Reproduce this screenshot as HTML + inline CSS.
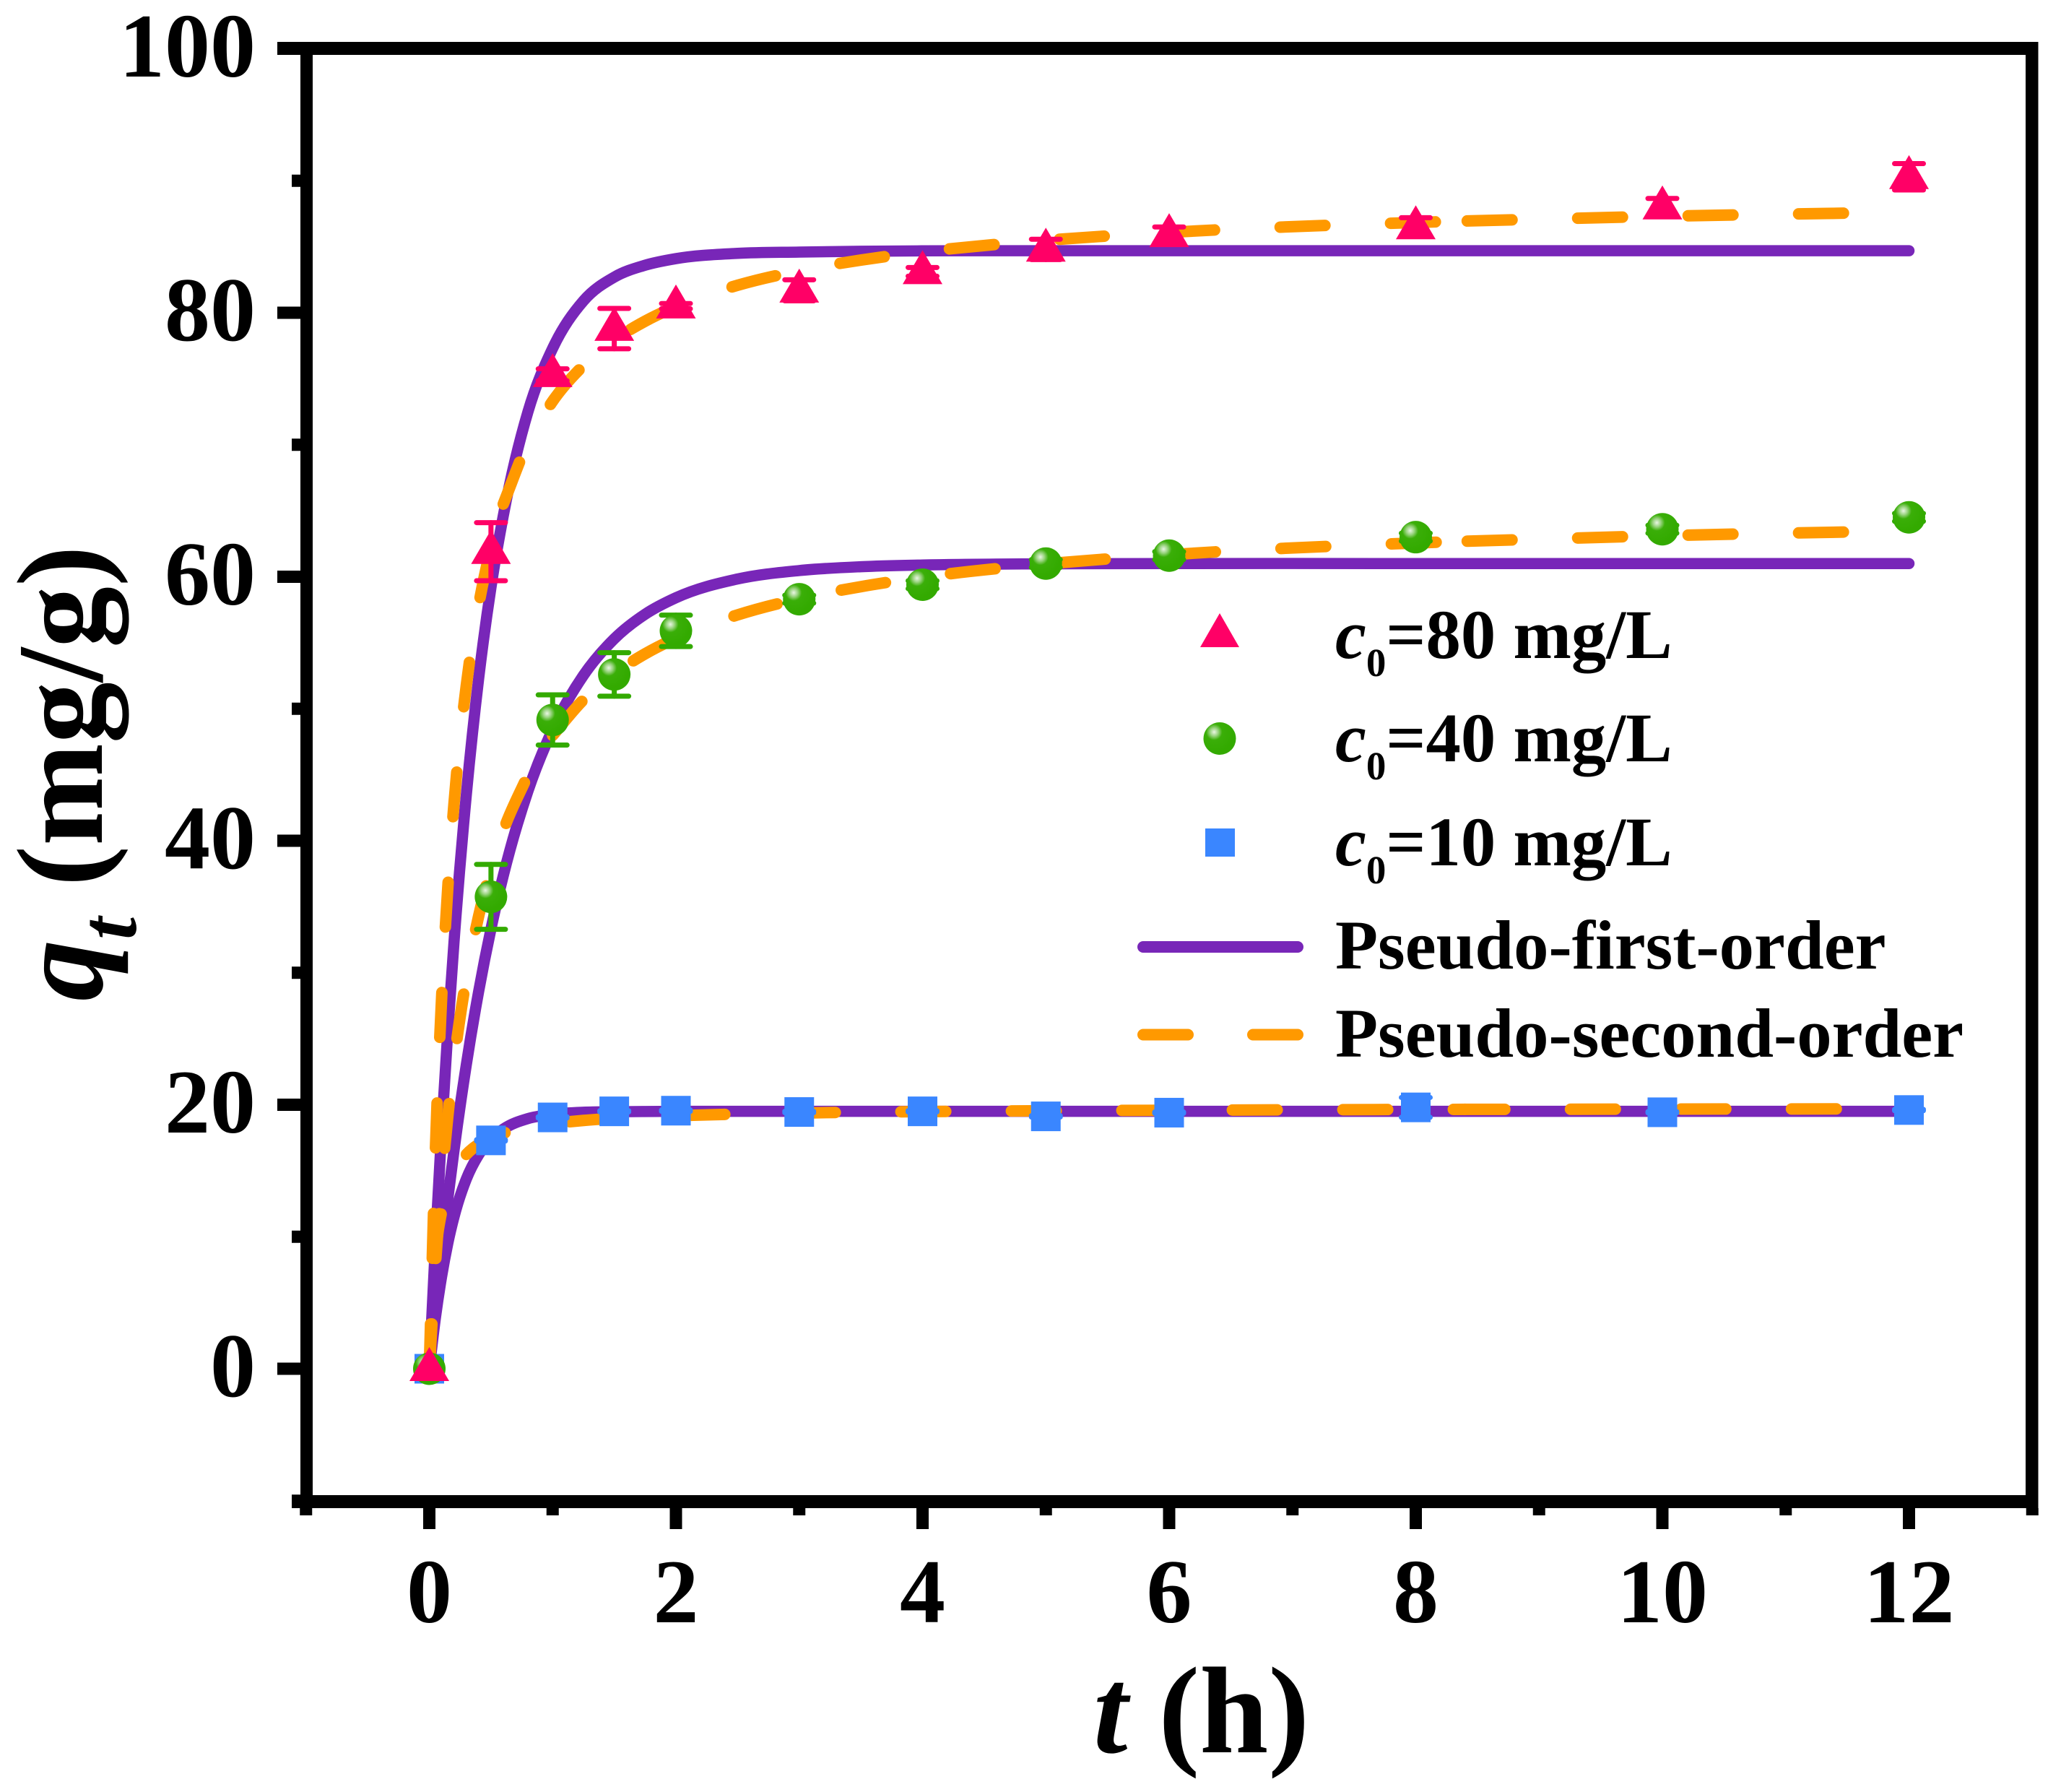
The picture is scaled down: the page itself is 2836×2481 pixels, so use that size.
<!DOCTYPE html>
<html lang="en">
<head>
<meta charset="utf-8">
<title>Adsorption kinetics chart</title>
<style>
html,body{margin:0;padding:0;background:#fff;}
svg{display:block;}
text{font-family:"Liberation Serif",serif;font-weight:bold;fill:#000;}
</style>
</head>
<body>
<svg id="chart" xmlns="http://www.w3.org/2000/svg" width="2836" height="2481" viewBox="0 0 2836 2481">
<defs>
<radialGradient id="sphere" cx="0.33" cy="0.3" r="0.62">
<stop offset="0" stop-color="#eaf6e4"/>
<stop offset="0.2" stop-color="#9ad480"/>
<stop offset="0.4" stop-color="#3aae08"/>
<stop offset="1" stop-color="#33aa00"/>
</radialGradient>
</defs>
<rect x="0" y="0" width="2836" height="2481" fill="#fff"/>
<g id="curves"></g>
<g id="marks"></g>
<g id="axes"></g>
<text transform="translate(141,1386) rotate(-90)" font-size="170"><tspan font-style="italic">q</tspan><tspan font-style="italic" font-size="112" dy="47">t</tspan><tspan dy="-47" xml:space="preserve"> (mg/g)</tspan></text>
<text x="1514" y="2426" font-size="171" xml:space="preserve"><tspan font-style="italic">t</tspan> (h)</text>
<g id="legend">
<polygon points="1689,849 1716,896 1662,896" fill="#ff0066"/>
<text x="1849" y="911" font-size="96.7"><tspan font-style="italic">c</tspan><tspan font-size="55" dy="25">0</tspan><tspan dy="-25">=80 mg/L</tspan></text>
<circle cx="1689" cy="1022.5" r="22.5" fill="url(#sphere)"/>
<text x="1849" y="1054" font-size="96.7"><tspan font-style="italic">c</tspan><tspan font-size="55" dy="25">0</tspan><tspan dy="-25">=40 mg/L</tspan></text>
<rect x="1669" y="1147" width="41" height="39" fill="#3a86ff"/>
<text x="1849" y="1198" font-size="96.7"><tspan font-style="italic">c</tspan><tspan font-size="55" dy="25">0</tspan><tspan dy="-25">=10 mg/L</tspan></text>
<line x1="1583" y1="1311" x2="1797" y2="1311" stroke="#7826b8" stroke-width="16" stroke-linecap="round"/>
<text x="1849" y="1341" font-size="96.7">Pseudo-first-order</text>
<line x1="1583" y1="1432.5" x2="1645" y2="1432.5" stroke="#ff9900" stroke-width="16" stroke-linecap="round"/>
<line x1="1735" y1="1432.5" x2="1797" y2="1432.5" stroke="#ff9900" stroke-width="16" stroke-linecap="round"/>
<text x="1849" y="1463" font-size="96.7">Pseudo-second-order</text>
</g>
</svg>
<script>
const times = [0,0.5,1,1.5,2,3,4,5,6,8,10,12];
const obs80 = [0,61.9,75.3,78.8,80.5,81.7,83.1,84.8,85.9,86.5,88,90.3];
const obs40 = [0,35.75,49.15,52.6,55.9,58.3,59.4,61,61.6,63,63.6,64.5];
const obs10 = [0,17.3,19.04,19.5,19.55,19.45,19.5,19.12,19.4,19.8,19.43,19.6];
const err80 = [0,2.2,0.45,1.53,0.2,0.8,0.33,0.77,0.6,0.7,0.66,1];
const err40 = [0,2.46,1.9,1.65,1.19,0.3,0.3,0.3,0.3,0.3,0.3,0.3];
const err10 = [0,0.05,0.05,0.05,0.05,0.05,0.05,0.05,0.05,0.75,0.05,0.05];

const curveT = [0,0.05,0.1,0.15,0.2,0.3,0.4,0.5,0.6,0.8,1,1.25,1.5,1.75,2,2.5,3,3.5,4,5,6,8,8.4,10,12];
const first80 = [0,9.58,18.07,25.6,32.29,43.47,52.27,59.19,64.63,72.5,77.3,80.9,82.7,83.6,84.1,84.5,84.6,84.66,84.69,84.7,84.7,84.7,84.7,84.7,84.7];
const first40 = [0,4.64,8.91,12.87,16.52,23.03,28.58,33.32,37.36,43.77,48.43,52.53,55.3,57.16,58.41,59.83,60.47,60.76,60.89,60.98,61,61,61,61,61];
const first10 = [0,3.89,7,9.5,11.49,14.37,16.21,17.39,18.15,18.95,19.27,19.43,19.47,19.49,19.5,19.5,19.5,19.5,19.5,19.5,19.5,19.5,19.5,19.5,19.5];
const second80 = [0,16.7,28.14,36.46,42.78,51.76,57.83,62.2,65.51,70.17,73.3,76,77.93,79.36,80.47,82.08,83.18,83.99,84.61,85.49,86.09,86.84,86.95,87.31,87.62];
const second40 = [0,7.92,14.13,19.12,23.23,29.59,34.29,37.89,40.75,44.99,47.98,50.68,52.66,54.16,55.35,57.11,58.34,59.25,59.96,60.97,61.67,62.56,62.69,63.11,63.48];
const second10 = [0,8.53,11.93,13.75,14.89,16.23,17,17.49,17.84,18.29,18.57,18.81,18.97,19.08,19.17,19.29,19.37,19.44,19.48,19.54,19.58,19.64,19.65,19.67,19.69];

const xMajor = [0,2,4,6,8,10,12];
const xMinor = [-1,1,3,5,7,9,11,13];
const yMajor = [0,20,40,60,80,100];
const yMinor = [-10,10,30,50,70,90];

const NS = 'http://www.w3.org/2000/svg';
function sx(t){ return 594.5 + 170.75 * t; }
function sy(q){ return 1895 - 18.275 * q; }
function mk(tag, parent, attrs){
  const el = document.createElementNS(NS, tag);
  for (const k in attrs) el.setAttribute(k, attrs[k]);
  parent.appendChild(el);
  return el;
}
function smoothPath(xs, ys){
  const p = xs.map((x,i)=>[sx(x), sy(ys[i])]);
  const n = p.length;
  const slope = [];
  for (let i = 0; i < n; i++){
    if (i === 0) { slope.push((p[1][1]-p[0][1])/(p[1][0]-p[0][0])); continue; }
    if (i === n-1) { slope.push((p[i][1]-p[i-1][1])/(p[i][0]-p[i-1][0])); continue; }
    const h0 = p[i][0]-p[i-1][0], h1 = p[i+1][0]-p[i][0];
    const d0 = (p[i][1]-p[i-1][1])/h0, d1 = (p[i+1][1]-p[i][1])/h1;
    slope.push((h1*d0 + h0*d1)/(h0+h1));
  }
  let d = 'M' + p[0][0].toFixed(2) + ' ' + p[0][1].toFixed(2);
  for (let i = 0; i < n-1; i++){
    const h = p[i+1][0]-p[i][0];
    d += ' C' + (p[i][0]+h/3).toFixed(2) + ' ' + (p[i][1]+slope[i]*h/3).toFixed(2) + ' ' + (p[i+1][0]-h/3).toFixed(2) + ' ' + (p[i+1][1]-slope[i+1]*h/3).toFixed(2) + ' ' + p[i+1][0].toFixed(2) + ' ' + p[i+1][1].toFixed(2);
  }
  return d;
}

const curves = document.getElementById('curves');
const marks = document.getElementById('marks');
const axes = document.getElementById('axes');

[[first10,'pseudo-first-order-c10'],[first40,'pseudo-first-order-c40'],[first80,'pseudo-first-order-c80']].forEach(function(s){
  const el = mk('path', curves, {d:smoothPath(curveT,s[0]),fill:'none',stroke:'#7826b8','stroke-width':15.5,'stroke-linecap':'round','stroke-linejoin':'round'});
  
  
});

function dashedPiece(values, name, t0, t1, offset, pattern){
  const i0 = curveT.indexOf(t0), i1 = curveT.indexOf(t1);
  const el = mk('path', curves, {d:smoothPath(curveT.slice(i0,i1+1),values.slice(i0,i1+1)),fill:'none',stroke:'#ff9900','stroke-width':16,'stroke-linecap':'round','stroke-linejoin':'round','stroke-dasharray':pattern,'stroke-dashoffset':offset});
  
  
}
const mainDash = '62 91';
const tailDash = '62 91 62 91 62 91 62 9999';
dashedPiece(second10, 'pseudo-second-order-c10', 0, 8.4, 0, mainDash);
dashedPiece(second10, 'pseudo-second-order-c10-tail', 8.4, 12, 7, tailDash);
dashedPiece(second40, 'pseudo-second-order-c40', 0, 0.8, 0, mainDash);
dashedPiece(second40, 'pseudo-second-order-c40-mid', 1, 8.4, 0, mainDash);
dashedPiece(second40, 'pseudo-second-order-c40-tail', 8.4, 12, -3, tailDash);
dashedPiece(second80, 'pseudo-second-order-c80', 0, 0.6, 0, mainDash);
dashedPiece(second80, 'pseudo-second-order-c80-mid', 0.6, 8.4, 0, mainDash);
dashedPiece(second80, 'pseudo-second-order-c80-tail', 8.4, 12, -3, tailDash);

function errorBar(t, q, e, color){
  const g = mk('g', marks, {stroke:color,'stroke-width':7,'stroke-linecap':'round'});
  
  
  const x = sx(t), y1 = sy(q+e), y2 = sy(q-e);
  mk('line', g, {x1:x,y1:y1,x2:x,y2:y2});
  mk('line', g, {x1:x-20,y1:y1,x2:x+20,y2:y1});
  mk('line', g, {x1:x-20,y1:y2,x2:x+20,y2:y2});
}
times.forEach(function(t,i){
  if (t === 0) return;
  errorBar(t, obs10[i], err10[i], '#3a86ff');
});
times.forEach(function(t,i){
  const sq = mk('rect', marks, {x:sx(t)-20.5,y:sy(obs10[i])-20.5,width:41,height:41,fill:'#3a86ff'});
  
  
});
times.forEach(function(t,i){
  if (t === 0) return;
  errorBar(t, obs40[i], err40[i], '#33aa00');
});
times.forEach(function(t,i){
  const c = mk('circle', marks, {cx:sx(t),cy:sy(obs40[i]),r:22.5,fill:'url(#sphere)'});
  
  
});
times.forEach(function(t,i){
  if (t === 0) return;
  errorBar(t, obs80[i], err80[i], '#ff0066');
});
times.forEach(function(t,i){
  const x = sx(t), y = sy(obs80[i]);
  const tri = mk('polygon', marks, {points:(x)+','+(y-30)+' '+(x+27.5)+','+(y+17)+' '+(x-27.5)+','+(y+17),fill:'#ff0066'});
  
  
});

const spines = [[384,58,2438.5,18,'top-spine'],[416,58,17,2030,'left-spine'],[2805,58,17.5,2030,'right-spine'],[404,2070,2418.5,18,'bottom-spine']];
spines.forEach(function(s){
  const r = mk('rect', axes, {x:s[0],y:s[1],width:s[2],height:s[3],fill:'#000'});
  
  
});
xMajor.forEach(function(v){
  const r = mk('rect', axes, {x:sx(v)-8.5,y:2088,width:17,height:29,fill:'#000'});
  
  
  const l = mk('text', axes, {x:sx(v),y:2246,'font-size':126,'text-anchor':'middle'});
  
  
  l.textContent = String(v);
});
xMinor.forEach(function(v){
  const r = mk('rect', axes, {x:sx(v)-8.5,y:2088,width:17,height:10,fill:'#000'});
  
  
});
yMajor.forEach(function(v){
  const r = mk('rect', axes, {x:384,y:sy(v)-8.5,width:32,height:17,fill:'#000'});
  
  
  const l = mk('text', axes, {x:354,y:sy(v)+38.5,'font-size':126,'text-anchor':'end'});
  
  
  l.textContent = String(v);
});
yMinor.forEach(function(v){
  const r = mk('rect', axes, {x:404,y:sy(v)-8.5,width:12,height:17,fill:'#000'});
  
  
});
</script>
</body>
</html>
